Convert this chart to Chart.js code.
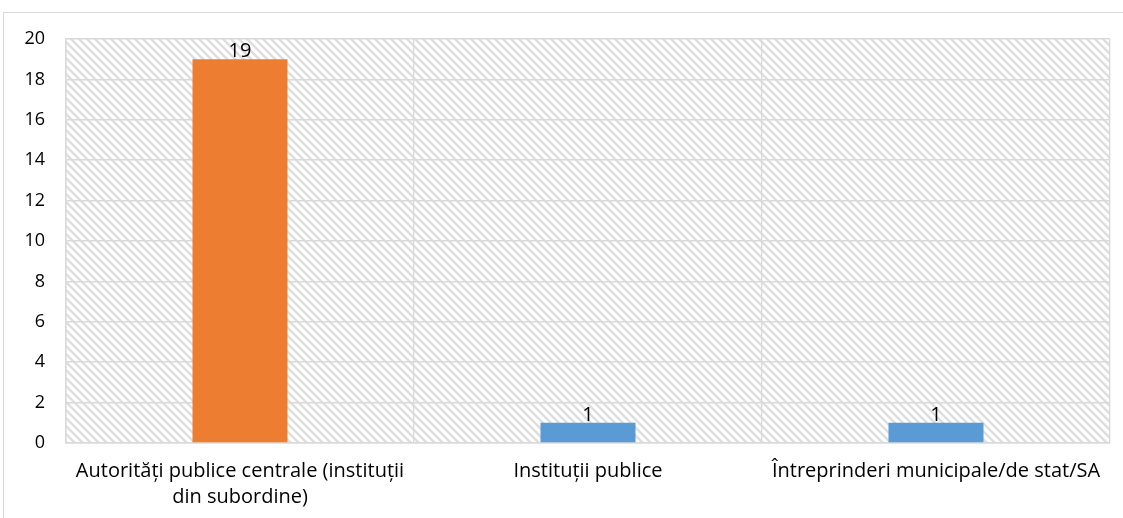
<!DOCTYPE html>
<html>
<head>
<meta charset="utf-8">
<script src="https://cdn.jsdelivr.net/npm/chart.js@4.4.1/dist/chart.umd.min.js"></script>
<style>
html,body{margin:0;padding:0;background:#fff;overflow:hidden;}
#wrap{width:1123px;height:518px;position:relative;}
</style>
</head>
<body>
<div id="wrap"><canvas id="c" width="1123" height="518"></canvas></div>
<script>
const categories = [
  ["Autorități publice centrale (instituții", "din subordine)"],
  "Instituții publice",
  "Întreprinderi municipale/de stat/SA"
];
const values = [19, 1, 1];
const yTicks = [0, 2, 4, 6, 8, 10, 12, 14, 16, 18, 20];

const FONT = "'Open Sans', 'Noto Sans', sans-serif";

function makeHatch(ctx) {
  const p = document.createElement('canvas');
  p.width = 8; p.height = 8;
  const g = p.getContext('2d');
  g.fillStyle = '#ffffff';
  g.fillRect(0, 0, 8, 8);
  g.strokeStyle = '#dedede';
  g.lineWidth = 2.4;
  g.beginPath();
  g.moveTo(-2, -2); g.lineTo(10, 10);
  g.moveTo(-10, -2); g.lineTo(2, 10);
  g.moveTo(6, -2); g.lineTo(18, 10);
  g.stroke();
  return ctx.createPattern(p, 'repeat');
}

const bgPlugin = {
  id: 'bgPlugin',
  beforeDraw(chart) {
    const ctx = chart.ctx;
    const a = chart.chartArea;
    ctx.save();
    ctx.fillStyle = '#ffffff';
    ctx.fillRect(0, 0, chart.width, chart.height);
    ctx.strokeStyle = '#d9d9d9';
    ctx.lineWidth = 1;
    ctx.strokeRect(3.5, 12.5, 1300, 700);
    ctx.fillStyle = makeHatch(ctx);
    ctx.fillRect(a.left, a.top, a.right - a.left, a.bottom - a.top);
    ctx.restore();
  }
};

const labelPlugin = {
  id: 'labelPlugin',
  afterDatasetsDraw(chart) {
    const ctx = chart.ctx;
    const meta = chart.getDatasetMeta(0);
    ctx.save();
    ctx.font = '20px ' + FONT;
    ctx.fillStyle = '#000000';
    ctx.textAlign = 'center';
    ctx.textBaseline = 'alphabetic';
    meta.data.forEach((bar, i) => {
      ctx.fillText(String(chart.data.datasets[0].data[i]), bar.x, bar.y - 2);
    });
    ctx.restore();
  }
};

new Chart(document.getElementById('c'), {
  type: 'bar',
  data: {
    labels: categories,
    datasets: [{
      data: values,
      backgroundColor: ['#ED7D31', '#5B9BD5', '#5B9BD5'],
      borderWidth: 0,
      categoryPercentage: 1,
      barPercentage: 0.273
    }]
  },
  options: {
    responsive: false,
    animation: false,
    devicePixelRatio: 1,
    layout: { padding: { left: 0, right: 13, top: 39, bottom: 0 } },
    plugins: {
      legend: { display: false },
      title: { display: false },
      tooltip: { enabled: false }
    },
    scales: {
      x: {
        offset: true,
        grid: { display: true, offset: true, color: '#d9d9d9', lineWidth: 1.3, drawTicks: false },
        border: { display: true, color: '#d9d9d9', width: 1.5 },
        ticks: {
          color: '#000000',
          font: { family: FONT, size: 20, lineHeight: 1.27 },
          padding: 16,
          maxRotation: 0,
          autoSkip: false
        },
        afterFit(s) { s.height = 75; }
      },
      y: {
        min: 0, max: 20,
        afterBuildTicks(s) { s.ticks = yTicks.map(v => ({ value: v })); },
        grid: { color: '#d9d9d9', lineWidth: 1.5, drawTicks: false },
        border: { display: true, color: '#d9d9d9', width: 1.5 },
        ticks: {
          color: '#000000',
          font: { family: FONT, size: 18 },
          padding: 21
        },
        afterFit(s) { s.width = 66; }
      }
    }
  },
  plugins: [bgPlugin, labelPlugin]
});
</script>
</body>
</html>
